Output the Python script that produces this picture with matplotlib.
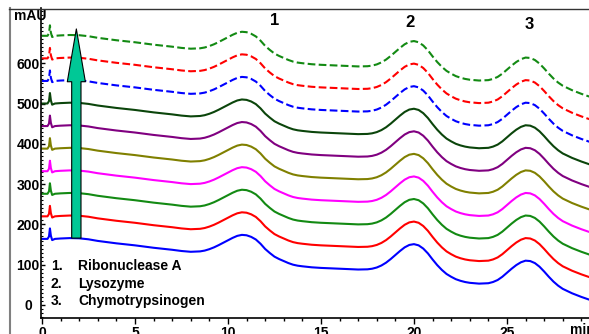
import matplotlib.pyplot as plt
from matplotlib.lines import Line2D
from matplotlib.ticker import MultipleLocator

plt.rcParams['font.family'] = ['Liberation Sans', 'DejaVu Sans']
plt.rcParams['font.weight'] = 'bold'

# bottom (blue) chromatogram: time in min, signal in mAU
time_min = [0.0, 0.3, 0.38, 0.43, 0.48, 0.55, 0.7, 1.0, 1.5, 2.0, 2.5, 3.0, 3.5,
            4.0, 5.0, 6.0, 7.0, 7.5, 8.0, 8.5, 8.75, 9.0, 9.25, 9.5, 9.75,
            10.0, 10.25, 10.5, 10.75, 11.0, 11.25, 11.5, 11.75, 12.0, 12.25,
            12.5, 12.75, 13.0, 13.25, 13.5, 13.75, 14.0, 14.5, 15.0, 16.0,
            17.0, 17.5, 17.75, 18.0, 18.25, 18.5, 18.75, 19.0, 19.25, 19.5,
            19.75, 20.0, 20.25, 20.5, 20.75, 21.0, 21.25, 21.5, 21.75, 22.0,
            22.25, 22.5, 22.75, 23.0, 23.5, 24.0, 24.25, 24.5, 24.75, 25.0,
            25.25, 25.5, 25.75, 26.0, 26.25, 26.5, 26.75, 27.0, 27.25, 27.5,
            27.75, 28.0, 28.5, 29.0, 29.5]
base_mau = [164, 164, 170, 190, 172, 161, 164, 165, 166, 165.5, 163, 159, 156,
            153, 148, 142, 137, 134, 132, 133, 135, 138.5, 143, 148.5, 154.5,
            160.5, 166.5, 171.5, 174, 173, 169, 162.5, 152, 139, 129,
            120, 114, 109, 104, 100, 97.5, 96, 93.5, 92, 90,
            88, 88.5, 90, 93, 98, 105, 114, 124, 134, 143,
            149, 151, 148, 140, 128, 113, 99, 87, 77, 70,
            64, 60, 57, 55, 53, 54, 57, 62, 70, 80,
            90, 99, 106, 110, 109, 104, 95, 83, 70, 58,
            48, 40, 29, 20, 12]

# stacked runs, bottom to top
trace_offsets = [0, 56, 112, 168, 224, 280, 336, 392, 448, 504]
trace_colors = ['#0000ff', '#ff0000', '#138a13', '#ff00ff', '#808000',
                '#800080', '#0b450b', '#0000ff', '#ff0000', '#138a13']
trace_styles = ['-', '-', '-', '-', '-', '-', '-', '--', '--', '--']

peak_labels = ['1', '2', '3']
peak_label_pos = [(12.5, 707), (19.8, 702), (26.2, 695)]
legend_lines = ['Ribonuclease A', 'Lysozyme', 'Chymotrypsinogen']

fig = plt.figure(figsize=(5.89, 3.34), dpi=100)
ax = fig.add_axes([41 / 589, 16 / 334, 548 / 589, 310 / 334])

for off, col, ls in zip(trace_offsets, trace_colors, trace_styles):
    ax.plot(time_min, [v + off for v in base_mau], color=col, ls=ls, lw=1.5)

ax.set_xlim(-0.05, 29.41)
ax.set_ylim(-32.3, 737)

for s in ['top', 'right']:
    ax.spines[s].set_visible(False)
for s in ['left', 'bottom']:
    ax.spines[s].set_linewidth(1.2)

ax.set_xticks([0, 5, 10, 15, 20, 25])
ax.xaxis.set_minor_locator(MultipleLocator(1))
ax.tick_params(axis='x', which='major', direction='out', length=4, width=1, pad=1.5, labelsize=10)
ax.tick_params(axis='x', which='minor', direction='out', length=2.5, width=1)

ax.set_yticks([0, 100, 200, 300, 400, 500, 600])
ax.yaxis.set_minor_locator(MultipleLocator(10))
ax.tick_params(axis='y', which='major', direction='in', length=3, width=1, pad=9.4, labelsize=10)
ax.tick_params(axis='y', which='minor', direction='in', length=1.5, width=0.8)
for lbl in ax.get_yticklabels():
    lbl.set_ha('center')

ax.text(-0.65, 717, 'mAU', ha='center', va='center', fontsize=10, clip_on=False)
ax.text(28.4, -62, 'min', ha='left', va='center', fontsize=10, clip_on=False)

for lab, (px, py) in zip(peak_labels, peak_label_pos):
    ax.text(px, py, lab, ha='center', va='center', fontsize=12)

for i, name in enumerate(legend_lines):
    y = [97, 52, 10][i]
    ax.text(0.48, y, f'{i + 1}.', ha='left', va='center', fontsize=10)
    ax.text(1.94, y, name, ha='left', va='center', fontsize=10)

# increasing-order arrow
ax.annotate('', xy=(1.85, 685), xytext=(1.85, 166),
            arrowprops=dict(arrowstyle='simple,head_length=38,head_width=13,tail_width=6.7',
                            mutation_scale=1, fc='#00c896', ec='black', lw=0.8,
                            shrinkA=0, shrinkB=0))

# outer frame
fig.add_artist(Line2D([9.5 / 589, 9.5 / 589], [0, 1 - 8 / 334], color='#808080', lw=1.5))
fig.add_artist(Line2D([9 / 589, 1], [1 - 8.5 / 334, 1 - 8.5 / 334], color='#333333', lw=1))

fig.savefig('out.png', dpi=100)
